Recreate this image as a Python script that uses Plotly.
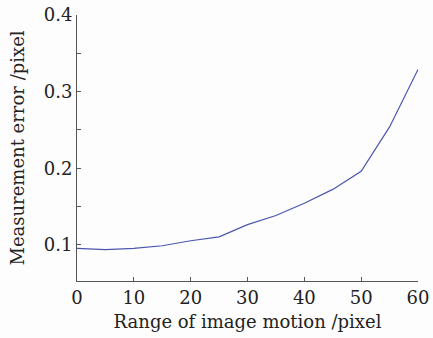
import plotly.graph_objects as go

x_motion = [0, 5, 10, 15, 20, 25, 30, 35, 40, 45, 50, 55, 60]
y_error = [0.0955, 0.0940, 0.0955, 0.0990, 0.1055, 0.1105, 0.1265, 0.1385, 0.1545, 0.1725, 0.1960, 0.2540, 0.3290]
x_ticks = [0, 10, 20, 30, 40, 50, 60]
y_ticks = [0.1, 0.2, 0.3, 0.4]
y_tick_labels = ["0.1", "0.2", "0.3", "0.4"]

font = "DejaVu Serif, serif"

fig = go.Figure()
fig.add_trace(go.Scatter(x=x_motion, y=y_error, mode="lines",
                         line=dict(color="#4a56b0", width=1.2), showlegend=False))

fig.update_layout(
    width=433, height=338,
    margin=dict(l=77, r=15, t=15, b=57),
    paper_bgcolor="#fdfdfd", plot_bgcolor="#fdfdfd",
    font=dict(family=font, size=18, color="#222"),
)
fig.update_xaxes(
    range=[0, 60], tickvals=x_ticks, ticks="inside", ticklen=4,
    tickcolor="#555", showline=True, linecolor="#555", linewidth=1,
    showgrid=False, zeroline=False, automargin=False,
    ticklabeloverflow="allow",
    title=dict(text="Range of image motion /pixel", standoff=8, font=dict(size=18)),
    tickfont=dict(size=18),
)
fig.update_yaxes(
    range=[0.053, 0.4], tickvals=y_ticks, ticktext=y_tick_labels,
    ticks="inside", ticklen=4, tickcolor="#555",
    minor=dict(dtick=0.05, tick0=0, ticks="inside", ticklen=4, tickcolor="#555"),
    showline=True, linecolor="#555", linewidth=1,
    showgrid=False, zeroline=False, automargin=False,
    ticklabeloverflow="allow",
    title=dict(text="Measurement error /pixel", standoff=14, font=dict(size=18)),
    tickfont=dict(size=18),
)

fig.write_html("out.html", config={"displayModeBar": False},
               post_script="document.body.style.margin='0';")
